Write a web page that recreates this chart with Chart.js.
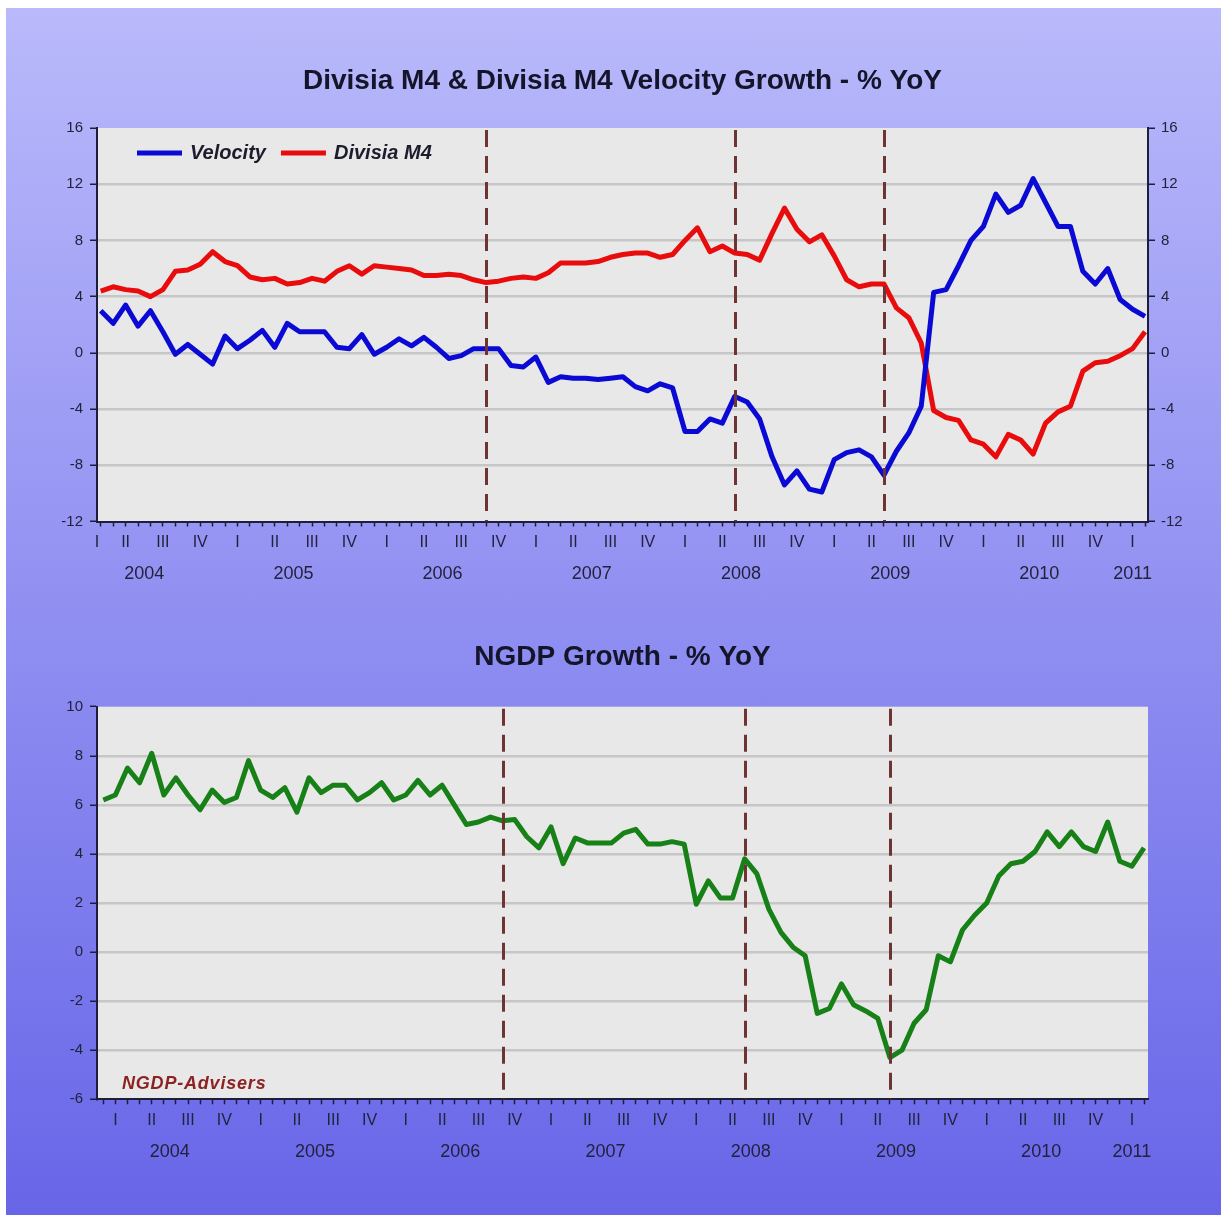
<!DOCTYPE html>
<html>
<head>
<meta charset="utf-8">
<script src="https://cdn.jsdelivr.net/npm/chart.js@4/dist/chart.umd.min.js"></script>
<style>
  html, body { margin: 0; padding: 0; background: #ffffff; }
  body { width: 1227px; height: 1215px; position: relative; overflow: hidden; }
  #panel { position: absolute; left: 6px; top: 8px; width: 1215px; height: 1207px;
           background: linear-gradient(#b9b9fb, #6866e8); }
  .chart { position: absolute; left: 0; }
  #topChart { top: 0; }
  #bottomChart { top: 607px; }
</style>
</head>
<body>
<div id="panel"></div>
<canvas id="topChart" class="chart" width="1227" height="607"></canvas>
<canvas id="bottomChart" class="chart" width="1227" height="608"></canvas>
<script>
// ---- data -------------------------------------------------------------
// Monthly series, % year over year
const velocityStart = '2004-02';
const velocity = [
  3.0, 2.1, 3.4, 1.9, 3.0, 1.5, -0.1, 0.6, -0.1, -0.8,
  1.2, 0.3, 0.9, 1.6, 0.4, 2.1, 1.5, 1.5, 1.5, 0.4,
  0.3, 1.3, -0.1, 0.4, 1.0, 0.5, 1.1, 0.4, -0.4, -0.2,
  0.3, 0.3, 0.3, -0.9, -1.0, -0.3, -2.1, -1.7, -1.8, -1.8,
  -1.9, -1.8, -1.7, -2.4, -2.7, -2.2, -2.5, -5.6, -5.6, -4.7,
  -5.0, -3.1, -3.5, -4.7, -7.4, -9.4, -8.4, -9.7, -9.9, -7.6,
  -7.1, -6.9, -7.4, -8.7, -7.0, -5.7, -3.8, 4.3, 4.5, 6.2,
  8.0, 9.0, 11.3, 10.0, 10.5, 12.4, 10.7, 9.0, 9.0, 5.8,
  4.9, 6.0, 3.8, 3.1, 2.6
];
const divisiaM4 = [
  4.4, 4.7, 4.5, 4.4, 4.0, 4.5, 5.8, 5.9, 6.3, 7.2,
  6.5, 6.2, 5.4, 5.2, 5.3, 4.9, 5.0, 5.3, 5.1, 5.8,
  6.2, 5.6, 6.2, 6.1, 6.0, 5.9, 5.5, 5.5, 5.6, 5.5,
  5.2, 5.0, 5.1, 5.3, 5.4, 5.3, 5.7, 6.4, 6.4, 6.4,
  6.5, 6.8, 7.0, 7.1, 7.1, 6.8, 7.0, 8.0, 8.9, 7.2,
  7.6, 7.1, 7.0, 6.6, 8.5, 10.3, 8.8, 7.9, 8.4, 6.9,
  5.2, 4.7, 4.9, 4.9, 3.2, 2.5, 0.7, -4.1, -4.6, -4.8,
  -6.2, -6.5, -7.4, -5.8, -6.2, -7.2, -5.0, -4.2, -3.8, -1.3,
  -0.7, -0.6, -0.2, 0.3, 1.5
];
const ngdpStart = '2003-12';
const ngdp = [
  6.2, 6.4, 7.5, 6.9, 8.1, 6.4, 7.1, 6.4, 5.8, 6.6,
  6.1, 6.3, 7.8, 6.6, 6.3, 6.7, 5.7, 7.1, 6.5, 6.8,
  6.8, 6.2, 6.5, 6.9, 6.2, 6.4, 7.0, 6.4, 6.8, 6.0,
  5.2, 5.3, 5.5, 5.35, 5.4, 4.7, 4.25, 5.1, 3.6, 4.65,
  4.45, 4.45, 4.45, 4.85, 5.0, 4.4, 4.4, 4.5, 4.4, 1.95,
  2.9, 2.2, 2.2, 3.8, 3.2, 1.75, 0.8, 0.2, -0.15, -2.5,
  -2.3, -1.3, -2.15, -2.4, -2.7, -4.3, -4.0, -2.9, -2.35, -0.15,
  -0.4, 0.9, 1.5, 2.0, 3.1, 3.6, 3.7, 4.1, 4.9, 4.3,
  4.9, 4.3, 4.1, 5.3, 3.7, 3.5, 4.25
];
// months marked with vertical dashed lines
const markerMonths = ['2006-09', '2008-05', '2009-05'];
// axis text
const quarterNames = ['I', 'II', 'III', 'IV'];
const axisYears = [2004, 2005, 2006, 2007, 2008, 2009, 2010, 2011];
const topTitle = 'Divisia M4 & Divisia M4 Velocity Growth - % YoY';
const bottomTitle = 'NGDP Growth - % YoY';
const creditText = 'NGDP-Advisers';

// ---- helpers ----------------------------------------------------------
const FONT = '"Liberation Sans", Arial, sans-serif';
const INK = '#22223c';
const AXIS = '#1e1e3c';
const GRID = '#c6c6c6';

function monthOffset(start, ym) {
  const [y0, m0] = start.split('-').map(Number);
  const [y1, m1] = ym.split('-').map(Number);
  return (y1 - y0) * 12 + (m1 - m0);
}
function toPoints(values) {
  return values.map((v, i) => ({ x: i, y: v }));
}
function quarterTicks(start, min, max) {
  const out = [];
  axisYears.forEach(y => {
    quarterNames.forEach((q, k) => {
      let idx = monthOffset(start, y + '-' + String(k * 3 + 1).padStart(2, '0'));
      if (idx > max) return;
      if (idx < min) idx = min;
      out.push({ value: idx, text: q });
    });
  });
  return out;
}
function yearTicks(start, min, max) {
  return axisYears.map(y => {
    const jan = monthOffset(start, y + '-01');
    let pos = jan + 4.5;
    if (pos > max) pos = jan;
    return { value: pos, text: String(y) };
  });
}

// plot background
const plotBackground = {
  id: 'plotBackground',
  beforeDraw(chart) {
    const a = chart.chartArea, ctx = chart.ctx;
    ctx.save();
    ctx.fillStyle = '#e8e8e8';
    ctx.fillRect(a.left, a.top, a.right - a.left, a.bottom - a.top);
    ctx.restore();
  }
};
// dashed month markers
const monthMarkers = {
  id: 'monthMarkers',
  afterDatasetsDraw(chart, args, opts) {
    const a = chart.chartArea, ctx = chart.ctx, xs = chart.scales.x;
    ctx.save();
    ctx.strokeStyle = '#6e3434';
    ctx.lineWidth = 3;
    ctx.setLineDash([17, 9]);
    opts.months.forEach(m => {
      const px = Math.round(xs.getPixelForValue(monthOffset(opts.start, m))) + 0.5;
      ctx.beginPath();
      ctx.moveTo(px, a.top + 2);
      ctx.lineTo(px, a.bottom);
      ctx.stroke();
    });
    ctx.restore();
  }
};
// one-row series key inside the plot, built from the datasets
const inlineLegend = {
  id: 'inlineLegend',
  beforeDatasetsDraw(chart) {
    const a = chart.chartArea, ctx = chart.ctx;
    ctx.save();
    ctx.font = 'italic bold 20px ' + FONT;
    ctx.textBaseline = 'middle';
    ctx.lineCap = 'butt';
    const y = a.top + 25;
    let x = a.left + 40;
    chart.data.datasets.forEach(ds => {
      ctx.strokeStyle = ds.borderColor;
      ctx.lineWidth = 5;
      ctx.beginPath();
      ctx.moveTo(x, y);
      ctx.lineTo(x + 45, y);
      ctx.stroke();
      x += 45 + 8;
      ctx.fillStyle = '#1c1c2c';
      ctx.fillText(ds.label, x, y);
      x += ctx.measureText(ds.label).width + 15;
    });
    ctx.restore();
  }
};
// credit line in the lower chart
const creditLabel = {
  id: 'creditLabel',
  afterDatasetsDraw(chart) {
    const a = chart.chartArea, ctx = chart.ctx;
    ctx.save();
    ctx.font = 'italic bold 18px ' + FONT;
    if ('letterSpacing' in ctx) ctx.letterSpacing = '0.8px';
    ctx.fillStyle = '#8c2222';
    ctx.textBaseline = 'alphabetic';
    ctx.fillText(creditText, a.left + 25, a.bottom - 10);
    ctx.restore();
  }
};

function xAxes(start, min, max, yearsHeight) {
  const qt = quarterTicks(start, min, max);
  const yt = yearTicks(start, min, max);
  const n = monthOffset(start, '2011-02');
  return {
    x: {
      type: 'linear', position: 'bottom', min, max, bounds: 'data', weight: 1,
      afterBuildTicks: s => { s.ticks = Array.from({ length: n + 1 }, (_, i) => ({ value: i })); },
      afterFit: s => { s.height = 8; },
      ticks: { display: false, autoSkip: false },
      grid: { drawOnChartArea: false, drawTicks: true, tickLength: 5, tickColor: AXIS, tickWidth: 1.5 },
      border: { display: true, color: AXIS, width: 2 }
    },
    xq: {
      type: 'linear', position: 'bottom', min, max, bounds: 'data', weight: 2,
      afterBuildTicks: s => { s.ticks = qt.map(t => ({ value: t.value })); },
      afterFit: s => { s.height = 25; },
      ticks: { autoSkip: false, maxRotation: 0, padding: 3.5, color: INK,
               font: { family: FONT, size: 16 },
               callback: (v, i) => qt[i] ? qt[i].text : '' },
      grid: { display: false, drawTicks: false },
      border: { display: false }
    },
    xy: {
      type: 'linear', position: 'bottom', min, max, bounds: 'data', weight: 3,
      afterBuildTicks: s => { s.ticks = yt.map(t => ({ value: t.value })); },
      afterFit: s => { s.height = yearsHeight; },
      ticks: { autoSkip: false, maxRotation: 0, padding: 9, color: INK,
               font: { family: FONT, size: 18 },
               callback: (v, i) => yt[i] ? yt[i].text : '' },
      grid: { display: false, drawTicks: false },
      border: { display: false }
    }
  };
}
function yAxis(position, min, max, step, width, withGrid) {
  return {
    type: 'linear', position, min, max, bounds: 'data',
    afterFit: s => { s.width = width; },
    ticks: { stepSize: step, padding: position === 'left' ? 7 : 6, color: INK,
             font: { family: FONT, size: 15 } },
    grid: {
      drawOnChartArea: withGrid,
      color: c => (c.tick && (c.tick.value === max || c.tick.value === min)) ? 'rgba(0,0,0,0)' : GRID,
      lineWidth: 2.5,
      tickLength: 7, tickColor: AXIS, tickWidth: 1.5
    },
    border: { display: true, color: AXIS, width: 2 }
  };
}

Chart.defaults.font.family = FONT;
Chart.defaults.animation = false;

// ---- upper chart: velocity and Divisia M4 ------------------------------
const topMin = -0.3, topMax = 84.24;
const topScales = Object.assign(xAxes(velocityStart, topMin, topMax, 52.5), {
  y: yAxis('left', -12, 16, 4, 97, true),
  y2: yAxis('right', -12, 16, 4, 79, false)
});
new Chart(document.getElementById('topChart'), {
  type: 'line',
  data: {
    datasets: [
      { label: 'Velocity', data: toPoints(velocity), borderColor: '#0a0ad4', backgroundColor: '#0a0ad4',
        borderWidth: 5, pointRadius: 0, borderJoinStyle: 'round', tension: 0, yAxisID: 'y', xAxisID: 'x' },
      { label: 'Divisia M4', data: toPoints(divisiaM4), borderColor: '#e80c0c', backgroundColor: '#e80c0c',
        borderWidth: 5, pointRadius: 0, borderJoinStyle: 'round', tension: 0, yAxisID: 'y', xAxisID: 'x' }
    ]
  },
  options: {
    responsive: false,
    layout: { padding: 0 },
    scales: topScales,
    plugins: {
      title: { display: true, text: topTitle, color: '#14142a', fullSize: false,
               font: { family: FONT, size: 28, weight: 'bold' }, padding: { top: 64, bottom: 30.4 } },
      legend: { display: false },
      tooltip: { enabled: false },
      monthMarkers: { start: velocityStart, months: markerMonths }
    }
  },
  plugins: [plotBackground, monthMarkers, inlineLegend]
});

// ---- lower chart: NGDP -------------------------------------------------
const botMin = -0.52, botMax = 86.33;
const botScales = Object.assign(xAxes(ngdpStart, botMin, botMax, 82.7), {
  y: yAxis('left', -6, 10, 2, 97, true)
});
new Chart(document.getElementById('bottomChart'), {
  type: 'line',
  data: {
    datasets: [
      { label: 'NGDP', data: toPoints(ngdp), borderColor: '#178017', backgroundColor: '#178017',
        borderWidth: 5, pointRadius: 0, borderJoinStyle: 'round', tension: 0, yAxisID: 'y', xAxisID: 'x' }
    ]
  },
  options: {
    responsive: false,
    layout: { padding: { left: 0, right: 79, top: 0, bottom: 0 } },
    scales: botScales,
    plugins: {
      title: { display: true, text: bottomTitle, color: '#14142a', fullSize: false,
               font: { family: FONT, size: 28, weight: 'bold' }, padding: { top: 33.2, bottom: 32.9 } },
      legend: { display: false },
      tooltip: { enabled: false },
      monthMarkers: { start: ngdpStart, months: markerMonths }
    }
  },
  plugins: [plotBackground, monthMarkers, creditLabel]
});
</script>
</body>
</html>
